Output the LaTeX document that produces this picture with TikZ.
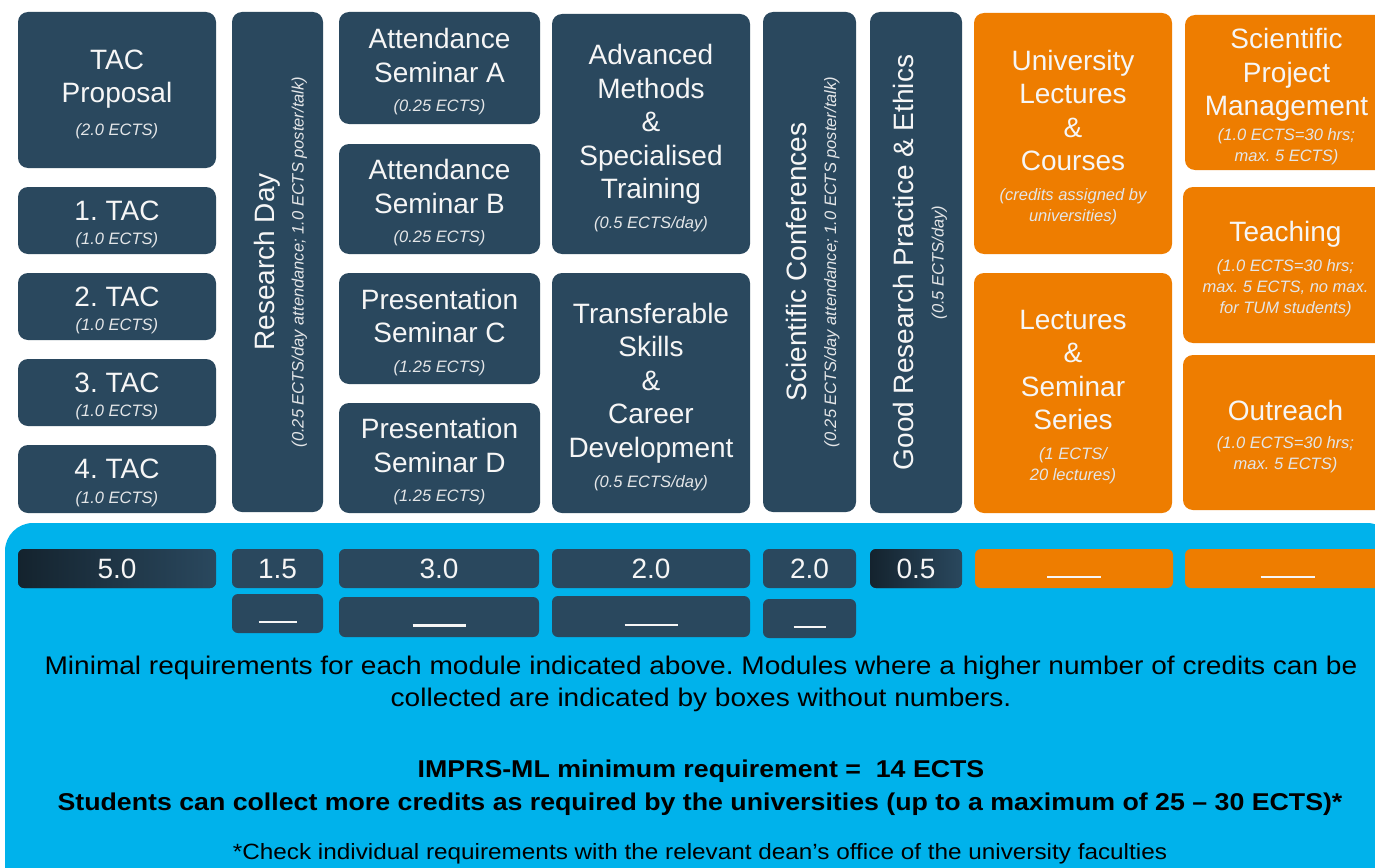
\documentclass[tikz,border=0pt]{standalone}
\usepackage{fontspec}
\setmainfont{Liberation Sans}
\newfontfamily\widefont[FakeStretch=1.1]{Liberation Sans}
\definecolor{slate}{RGB}{42,72,94}
\definecolor{slatedk}{RGB}{20,35,46}
\definecolor{orng}{RGB}{238,125,0}
\definecolor{sky}{RGB}{0,178,235}
\definecolor{txt}{RGB}{246,246,246}
\definecolor{notecol}{RGB}{228,230,232}
\newcommand\titlefont{\fontsize{28}{33.5}\selectfont}
\newcommand\notefont{\fontsize{16.5}{21}\selectfont\itshape}
\newcommand\numfont{\fontsize{28}{30}\selectfont}
\newcommand\nte[1]{{\notefont\color{notecol}#1}}
\newcommand\blankline[1]{\smash{\raisebox{-9.8pt}{\rule{#1pt}{2.6pt}}}}
% \boxat{style}{name}{x1}{y1}{x2}{y2}{text}
\newcommand\boxat[7]{%
  \pgfmathsetmacro\bxw{#5-#3}\pgfmathsetmacro\bxh{#6-#4}%
  \pgfmathsetmacro\bxx{(#3+#5)/2}\pgfmathsetmacro\bxy{(#4+#6)/2}%
  \node[#1, minimum width=\bxw pt, minimum height=\bxh pt] (#2) at (\bxx,\bxy) {#7};}
% \modat{style}{name}{x1}{y1}{x2}{y2}{text}: box plus its centred label
\newcommand\modat[7]{%
  \boxat{#1}{#2}{#3}{#4}{#5}{#6}{}%
  \node[modtext] (#2-t) at ([yshift=-4pt]#2.center) {#7};}
\tikzset{
  modbox/.style={fill=slate, rounded corners=10pt, inner sep=0pt},
  orbox/.style={modbox, fill=orng},
  modtext/.style={align=center, text=txt, font=\titlefont, inner sep=0pt},
  vlabel/.style={rotate=90, align=center, text=txt, font=\titlefont, inner sep=0pt},
  bar/.style={fill=slate, rounded corners=6pt, inner sep=0pt, text=txt, font=\numfont},
  gbar/.style={bar, left color=slatedk, right color=slate},
  obar/.style={bar, fill=orng},
  panel/.style={fill=sky, rounded corners=28pt, inner sep=0pt},
  bodytext/.style={align=center, text=black, inner sep=0pt, font=\widefont\fontsize{25.5}{32}\selectfont},
  boldtext/.style={align=center, text=black, inner sep=0pt, font=\widefont\fontsize{24.3}{32}\selectfont\bfseries},
  foottext/.style={align=center, text=black, inner sep=0pt, font=\widefont\fontsize{22.1}{28}\selectfont},
}
\begin{document}
\frenchspacing
\begin{tikzpicture}[x=1pt, y=-1pt]
\useasboundingbox (0,0) rectangle (1375,867);
\clip (0,0) rectangle (1375,867);
\fill[white] (0,0) rectangle (1375,867);

% ---- top modules (dark) ----
\modat{modbox}{tacp}{18}{12}{216}{168}{TAC\\Proposal\\[-1pt]\nte{(2.0 ECTS)}}
\modat{modbox}{tac1}{18}{187}{216}{254}{1. TAC\\[-9pt]\nte{(1.0 ECTS)}}
\modat{modbox}{tac2}{18}{273}{216}{340}{2. TAC\\[-9pt]\nte{(1.0 ECTS)}}
\modat{modbox}{tac3}{18}{359}{216}{426}{3. TAC\\[-9pt]\nte{(1.0 ECTS)}}
\modat{modbox}{tac4}{18}{445}{216}{513}{4. TAC\\[-9pt]\nte{(1.0 ECTS)}}

\boxat{modbox}{rd}{232}{12}{323}{512}{}
\node[vlabel] (rd-l) at ([xshift=3pt]rd.center) {Research Day\\[-4pt]\nte{(0.25 ECTS/day attendance; 1.0 ECTS poster/talk)}};

\modat{modbox}{semA}{339}{12}{540}{124}{Attendance\\Seminar A\\[-4pt]\nte{(0.25 ECTS)}}
\modat{modbox}{semB}{339}{144}{540}{254}{Attendance\\Seminar B\\[-4pt]\nte{(0.25 ECTS)}}
\modat{modbox}{semC}{339}{273}{540}{384}{Presentation\\Seminar C\\[-4pt]\nte{(1.25 ECTS)}}
\modat{modbox}{semD}{339}{403}{540}{513}{Presentation\\Seminar D\\[-4pt]\nte{(1.25 ECTS)}}

\modat{modbox}{adv}{552}{14}{750}{254}{Advanced\\Methods\\\&\\Specialised\\Training\\[-4pt]\nte{(0.5 ECTS/day)}}
\modat{modbox}{trans}{552}{273}{750}{513}{Transferable\\Skills\\\&\\Career\\Development\\[-3pt]\nte{(0.5 ECTS/day)}}

\boxat{modbox}{conf}{763}{12}{856}{512}{}
\node[vlabel] (conf-l) at ([xshift=3.5pt]conf.center) {Scientific Conferences\\[-4pt]\nte{(0.25 ECTS/day attendance; 1.0 ECTS poster/talk)}};

\boxat{modbox}{good}{870}{12}{962}{513}{}
\node[vlabel] (good-l) at ([xshift=4pt]good.center) {Good Research Practice \& Ethics\\[-3pt]\nte{(0.5 ECTS/day)}};

% ---- top modules (orange) ----
\modat{orbox}{uni}{974}{13}{1172}{254}{University\\Lectures\\\&\\Courses\\[-4pt]\nte{(credits assigned by}\\[-12.5pt]\nte{universities)}}
\modat{orbox}{lss}{974}{273}{1172}{513}{Lectures\\\&\\Seminar\\Series\\[-4pt]\nte{(1 ECTS/}\\[-12.5pt]\nte{20 lectures)}}
\modat{orbox}{spm}{1185}{15}{1388}{170}{Scientific\\Project\\Management\\[-9pt]\nte{(1.0 ECTS=30 hrs;}\\[-12.5pt]\nte{max. 5 ECTS)}}
\modat{orbox}{teach}{1183}{187}{1388}{343}{Teaching\\[-4pt]\nte{(1.0 ECTS=30 hrs;}\\[-12.5pt]\nte{max. 5 ECTS, no max.}\\[-12.5pt]\nte{for TUM students)}}
\modat{orbox}{outr}{1183}{355}{1388}{510}{Outreach\\[-6pt]\nte{(1.0 ECTS=30 hrs;}\\[-12.5pt]\nte{max. 5 ECTS)}}

% ---- bottom panel ----
\boxat{panel}{panel}{5}{523}{1395}{895}{}

\boxat{gbar}{b-tac}{18}{549}{216}{588}{5.0}
\boxat{bar}{b-rd}{232}{549}{323}{588}{1.5}
\boxat{bar}{b-sem}{339}{549}{539}{588}{3.0}
\boxat{bar}{b-adv}{552}{549}{750}{588}{2.0}
\boxat{bar}{b-conf}{763}{549}{856}{588}{2.0}
\boxat{gbar}{b-good}{870}{549}{962}{588}{0.5}
\boxat{obar}{b-uni}{975}{549}{1173}{588}{\blankline{54}}
\boxat{obar}{b-spm}{1185}{549}{1390}{588}{\blankline{54}}

\boxat{bar}{c-rd}{232}{594}{323}{633}{\blankline{38}}
\boxat{bar}{c-sem}{339}{597}{539}{637}{\blankline{53}}
\boxat{bar}{c-adv}{552}{596}{750}{637}{\blankline{53}}
\boxat{bar}{c-conf}{763}{599}{856}{638}{\blankline{32}}

\node[bodytext] (req) at (701,684) {Minimal requirements for each module indicated above. Modules where a higher number of credits can be\\collected are indicated by boxes without numbers.};
\node[boldtext] (min) at (701,771) {IMPRS-ML minimum requirement =\ \ 14 ECTS};
\node[boldtext] (more) at (700,804) {Students can collect more credits as required by the universities (up to a maximum of 25 – 30 ECTS)*};
\node[foottext] (foot) at (700,854) {*Check individual requirements with the relevant dean’s office of the university faculties};
\end{tikzpicture}
\end{document}
